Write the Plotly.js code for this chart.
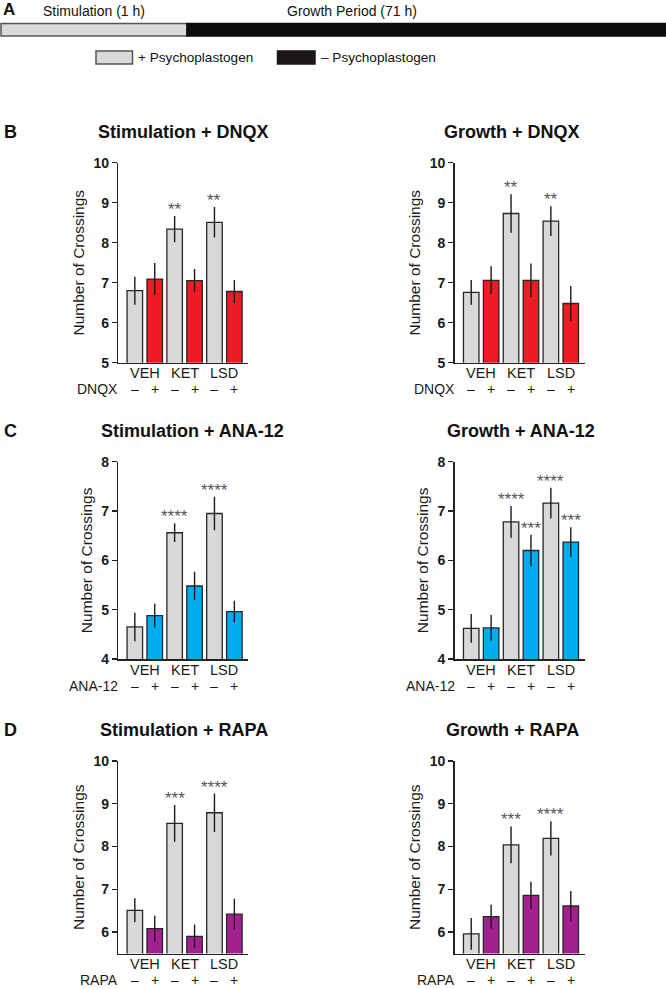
<!DOCTYPE html>
<html><head><meta charset="utf-8">
<script src="https://cdn.plot.ly/plotly-3.0.1.min.js"></script>
<style>html,body{margin:0;padding:0;background:#fff}#chart{width:666px;height:989px}</style>
</head><body><div id="chart"></div>
<script>
// ---------- data ----------
const groups = ["VEH", "KET", "LSD"];
const groupX = [0.5, 2.5, 4.5];
const signs = ["–", "+", "–", "+", "–", "+"];
const barX = [0, 1, 2, 3, 4, 5];

const stimDNQX = [6.80, 7.09, 8.34, 7.05, 8.51, 6.78];
const stimDNQXErr = [0.35, 0.40, 0.33, 0.29, 0.38, 0.29];
const stimDNQXSig = ["", "", "**", "", "**", ""];

const growDNQX = [6.76, 7.06, 8.73, 7.06, 8.54, 6.48];
const growDNQXErr = [0.31, 0.35, 0.48, 0.42, 0.37, 0.44];
const growDNQXSig = ["", "", "**", "", "**", ""];

const stimANA = [4.65, 4.88, 6.56, 5.48, 6.95, 4.96];
const stimANAErr = [0.29, 0.24, 0.19, 0.29, 0.34, 0.22];
const stimANASig = ["", "", "****", "", "****", ""];

const growANA = [4.62, 4.63, 6.78, 6.20, 7.16, 6.37];
const growANAErr = [0.29, 0.26, 0.32, 0.32, 0.31, 0.30];
const growANASig = ["", "", "****", "***", "****", "***"];

const stimRAPA = [6.51, 6.08, 8.54, 5.90, 8.79, 6.42];
const stimRAPAErr = [0.28, 0.30, 0.43, 0.28, 0.45, 0.36];
const stimRAPASig = ["", "", "***", "", "****", ""];

const growRAPA = [5.96, 6.36, 8.04, 6.86, 8.19, 6.61];
const growRAPAErr = [0.37, 0.28, 0.43, 0.32, 0.40, 0.35];
const growRAPASig = ["", "", "***", "", "****", ""];

const ticksDNQX = [5, 6, 7, 8, 9, 10];
const ticksANA = [4, 5, 6, 7, 8];
const ticksRAPA = [6, 7, 8, 9, 10];

// ---------- styling / layout ----------
const W = 666, H = 989;
const FONT = "Liberation Sans, Arial, Helvetica, sans-serif";
const GRAY = "#d9d9d9", RED = "#ed1c24", BLUE = "#00aeef", PURPLE = "#a3218f";
const EDGE = "#262626";
const px = x => x / W;
const py = y => 1 - y / H;

const colLeft = [118.3, 454.7];
const colWidth = 130;
const rowPix = [[162.7, 362.7], [461.7, 659], [761, 953.5]];
const signShift = [-26, -27, -26];

const panels = [
  {y: stimDNQX, e: stimDNQXErr, s: stimDNQXSig, title: "Stimulation + DNQX", drug: "DNQX", color: RED, yr: [5, 10], ticks: ticksDNQX, col: 0, row: 0, tx: 183.7},
  {y: growDNQX, e: growDNQXErr, s: growDNQXSig, title: "Growth + DNQX", drug: "DNQX", color: RED, yr: [5, 10], ticks: ticksDNQX, col: 1, row: 0, tx: 511.8},
  {y: stimANA, e: stimANAErr, s: stimANASig, title: "Stimulation + ANA-12", drug: "ANA-12", color: BLUE, yr: [4, 8], ticks: ticksANA, col: 0, row: 1, tx: 192},
  {y: growANA, e: growANAErr, s: growANASig, title: "Growth + ANA-12", drug: "ANA-12", color: BLUE, yr: [4, 8], ticks: ticksANA, col: 1, row: 1, tx: 520.7},
  {y: stimRAPA, e: stimRAPAErr, s: stimRAPASig, title: "Stimulation + RAPA", drug: "RAPA", color: PURPLE, yr: [5.5, 10], ticks: ticksRAPA, col: 0, row: 2, tx: 184},
  {y: growRAPA, e: growRAPAErr, s: growRAPASig, title: "Growth + RAPA", drug: "RAPA", color: PURPLE, yr: [5.5, 10], ticks: ticksRAPA, col: 1, row: 2, tx: 512}
];
const titleY = [131.7, 431, 730];
const letters = [["B", 131.7], ["C", 431], ["D", 730]];

const traces = [];
const layout = {
  width: W, height: H,
  margin: {l: 0, r: 0, t: 0, b: 0, pad: 0},
  paper_bgcolor: "#fff", plot_bgcolor: "rgba(0,0,0,0)",
  showlegend: false,
  font: {family: FONT, color: "#1a1a1a"},
  annotations: [], shapes: []
};
const ann = layout.annotations;

panels.forEach((p, i) => {
  const n = i + 1;
  const sfx = n === 1 ? "" : String(n);
  const xa = "x" + sfx, ya = "y" + sfx;
  const left = colLeft[p.col];
  const [top, bottom] = rowPix[p.row];
  traces.push({
    type: "bar", x: barX, y: p.y, xaxis: xa, yaxis: ya, width: 0.78,
    marker: {color: barX.map(k => k % 2 === 0 ? GRAY : p.color), line: {color: EDGE, width: 1.3}},
    error_y: {type: "data", array: p.e, visible: true, color: "#1a1a1a", thickness: 1.4, width: 0},
    hoverinfo: "skip"
  });
  layout["xaxis" + sfx] = {
    domain: [px(left), px(left + colWidth)], anchor: ya,
    range: [-0.83, 5.70], showticklabels: false,
    ticks: "", showline: true, linecolor: "#222", linewidth: 1.5,
    showgrid: false, zeroline: false, fixedrange: true
  };
  layout["yaxis" + sfx] = {
    domain: [py(bottom), py(top)], anchor: xa,
    range: p.yr, tickmode: "array", tickvals: p.ticks,
    ticks: "outside", ticklen: 5, tickwidth: 1.3, tickcolor: "#222",
    showline: true, linecolor: "#222", linewidth: 1.5,
    showgrid: false, zeroline: false, fixedrange: true,
    tickfont: {family: FONT, size: 14, weight: "bold", color: "#1a1a1a"},
    title: {text: "Number of Crossings", font: {family: FONT, size: 15.5, color: "#1a1a1a"}, standoff: 5}
  };
  // significance stars
  p.s.forEach((t, k) => {
    if (!t) return;
    ann.push({xref: xa, yref: ya, x: barX[k], y: p.y[k] + p.e[k], yanchor: "bottom", yshift: -5,
      text: t, showarrow: false, font: {family: FONT, size: 17, color: "#555"}});
  });
  // group labels
  groups.forEach((g, k) => {
    ann.push({xref: xa, yref: "paper", x: groupX[k], y: py(bottom), yanchor: "middle", yshift: -10.5,
      borderpad: 0, text: g, showarrow: false, font: {family: FONT, size: 14.5, color: "#1a1a1a"}});
  });
  // sign row
  const ss = signShift[p.row];
  signs.forEach((t, k) => {
    ann.push({xref: xa, yref: "paper", x: barX[k], y: py(bottom), yanchor: "middle", yshift: ss,
      borderpad: 0, text: t, showarrow: false, font: {family: FONT, size: 14, color: "#1a1a1a"}});
  });
  ann.push({xref: "paper", yref: "paper", x: px(left + 1), y: py(bottom), xanchor: "right", yanchor: "middle", yshift: ss,
    borderpad: 0, text: p.drug, showarrow: false, font: {family: FONT, size: 14, color: "#1a1a1a"}});
  // panel title
  ann.push({xref: "paper", yref: "paper", x: px(p.tx), y: py(titleY[p.row]), xanchor: "center", yanchor: "middle",
    text: p.title, showarrow: false, font: {family: FONT, size: 18, weight: "bold", color: "#111"}});
});

letters.forEach(([L, y]) => {
  ann.push({xref: "paper", yref: "paper", x: px(2), y: py(y), xanchor: "left", yanchor: "middle",
    text: L, showarrow: false, font: {family: FONT, size: 18, weight: "bold", color: "#111"}});
});

// ---------- panel A (timeline schematic) ----------
ann.push({xref: "paper", yref: "paper", x: px(1), y: py(10), xanchor: "left", yanchor: "middle",
  text: "A", showarrow: false, font: {family: FONT, size: 17, weight: "bold", color: "#111"}});
ann.push({xref: "paper", yref: "paper", x: px(93.5), y: py(11), xanchor: "center", yanchor: "middle",
  text: "Stimulation (1 h)", showarrow: false, font: {family: FONT, size: 14, color: "#111"}});
ann.push({xref: "paper", yref: "paper", x: px(351.7), y: py(11), xanchor: "center", yanchor: "middle",
  text: "Growth Period (71 h)", showarrow: false, font: {family: FONT, size: 14, color: "#111"}});
ann.push({xref: "paper", yref: "paper", x: px(136), y: py(57.5), xanchor: "left", yanchor: "middle",
  text: "+ Psychoplastogen", showarrow: false, font: {family: FONT, size: 13.6, color: "#111"}});
ann.push({xref: "paper", yref: "paper", x: px(319), y: py(57.5), xanchor: "left", yanchor: "middle",
  text: "– Psychoplastogen", showarrow: false, font: {family: FONT, size: 13.6, color: "#111"}});

const rect = (x0, y0, x1, y1, fill, line) => ({
  type: "rect", xref: "paper", yref: "paper", x0: px(x0), x1: px(x1), y0: py(y1), y1: py(y0),
  fillcolor: fill, line: {color: line, width: 1.5}, layer: "above"
});
layout.shapes.push(rect(1, 23.5, 187, 36, GRAY, "#555"));
layout.shapes.push(rect(187, 23.5, 665.5, 36, "#0d0d0d", "#0d0d0d"));
layout.shapes.push(rect(96, 51, 132.5, 64, GRAY, "#555"));
layout.shapes.push(rect(277.5, 51, 315, 64, "#1c1616", "#1c1616"));

Plotly.newPlot("chart", traces, layout, {staticPlot: true, displayModeBar: false});
</script>
</body></html>
